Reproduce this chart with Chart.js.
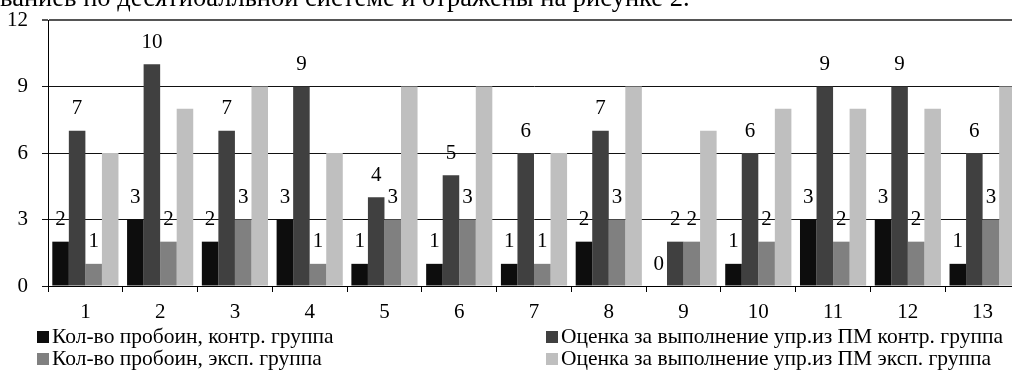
<!DOCTYPE html>
<html>
<head>
<meta charset="utf-8">
<script src="https://cdn.jsdelivr.net/npm/chart.js@4/dist/chart.umd.min.js"></script>
<style>
  html, body { margin: 0; padding: 0; overflow: hidden; background: #fff; }
  #wrap { position: relative; width: 1020px; height: 371px; font-family: "Liberation Serif", serif; }
</style>
</head>
<body>
<div id="wrap"><canvas id="c" width="1020" height="371"></canvas></div>
<script>
// Exercise numbers along the x axis
const categories = ['1', '2', '3', '4', '5', '6', '7', '8', '9', '10', '11', '12', '13'];

// Number of breaches, control group
const breachesControl = [2, 3, 2, 3, 1, 1, 1, 2, 0, 1, 3, 3, 1];
// Score for the exercise, control group
const scoreControl = [7, 10, 7, 9, 4, 5, 6, 7, 2, 6, 9, 9, 6];
// Number of breaches, experimental group
const breachesExp = [1, 2, 3, 1, 3, 3, 1, 3, 2, 2, 2, 2, 3];
// Score for the exercise, experimental group
const scoreExp = [6, 8, 9, 6, 9, 9, 6, 9, 7, 8, 8, 8, 9];

const yTicks = [0, 3, 6, 9, 12];

const seriesNames = [
  'Кол-во пробоин, контр. группа',
  'Оценка за выполнение упр.из ПМ контр. группа',
  'Кол-во пробоин, эксп. группа',
  'Оценка за выполнение упр.из ПМ эксп. группа'
];
const seriesColors = ['#0d0d0d', '#404040', '#808080', '#bfbfbf'];

// Closing line of the paragraph above the figure
const leadText = 'ваниев по десятибалльной системе и отражены на рисунке 2.';

const FONT = '"Liberation Serif", "DejaVu Serif", serif';

// Value labels above the bars of the first three series
const valueLabels = {
  id: 'valueLabels',
  afterDatasetsDraw(chart) {
    const ctx = chart.ctx;
    ctx.save();
    ctx.font = '21px ' + FONT;
    ctx.fillStyle = '#000';
    ctx.textAlign = 'center';
    ctx.textBaseline = 'middle';
    [0, 1, 2].forEach(di => {
      const meta = chart.getDatasetMeta(di);
      const data = chart.data.datasets[di].data;
      meta.data.forEach((bar, i) => {
        ctx.fillText(String(data[i]), bar.x, bar.y - 22);
      });
    });
    ctx.restore();
  }
};

// Two-column legend under the axis, plus the paragraph line at the top
const sideText = {
  id: 'sideText',
  afterDraw(chart) {
    const ctx = chart.ctx;
    ctx.save();
    ctx.fillStyle = '#000';
    ctx.textAlign = 'left';
    ctx.textBaseline = 'alphabetic';
    ctx.font = '26.5px ' + FONT;
    ctx.fillText(leadText, 0, 6);

    ctx.font = '21.5px ' + FONT;
    const cols = [37, 546];
    const rows = [337, 359];
    chart.data.datasets.forEach((ds, i) => {
      const x = cols[i % 2];
      const y = rows[Math.floor(i / 2)];
      ctx.fillStyle = ds.backgroundColor;
      ctx.fillRect(x, y - 6, 12, 12);
      ctx.fillStyle = '#000';
      ctx.textBaseline = 'middle';
      ctx.fillText(ds.label, x + 15, y);
    });
    ctx.restore();
  }
};

const seriesValues = [breachesControl, scoreControl, breachesExp, scoreExp];

function build() {
  new Chart(document.getElementById('c'), {
    type: 'bar',
    data: {
      labels: categories,
      datasets: seriesValues.map((vals, i) => ({
        label: seriesNames[i],
        data: vals,
        backgroundColor: seriesColors[i],
        borderWidth: 0,
        categoryPercentage: 0.885,
        barPercentage: 1
      }))
    },
    options: {
      responsive: false,
      devicePixelRatio: 1,
      animation: false,
      layout: { padding: { top: 20, left: 0, right: 0, bottom: 0 } },
      plugins: {
        legend: { display: false },
        tooltip: { enabled: false }
      },
      scales: {
        x: {
          offset: true,
          grid: {
            offset: true,
            drawOnChartArea: false,
            drawTicks: true,
            tickLength: 6,
            color: '#000'
          },
          border: { color: '#000', width: 1 },
          ticks: {
            color: '#000',
            font: { family: FONT, size: 21 },
            padding: 8,
            maxRotation: 0
          },
          afterFit(scale) {
            scale.height = 85;
            scale.paddingLeft = 0;
            scale.paddingRight = 0;
          }
        },
        y: {
          min: 0,
          max: 12,
          afterBuildTicks(scale) { scale.ticks = yTicks.map(v => ({ value: v })); },
          grid: {
            // the top line of the frame is a little heavier and softer
            color: ctx => (ctx.tick && ctx.tick.value === 12 ? '#555' : '#111'),
            lineWidth: ctx => (ctx.tick && ctx.tick.value === 12 ? 2 : 1),
            drawTicks: true,
            tickLength: 6
          },
          border: { color: '#000', width: 1 },
          ticks: {
            color: '#000',
            font: { family: FONT, size: 21 },
            padding: 14
          },
          afterFit(scale) {
            scale.width = 48;
            scale.paddingTop = 0;
            scale.paddingBottom = 0;
          }
        }
      }
    },
    plugins: [valueLabels, sideText]
  });
}

document.fonts.load('20px "Liberation Serif"').then(build, build);
</script>
</body>
</html>
